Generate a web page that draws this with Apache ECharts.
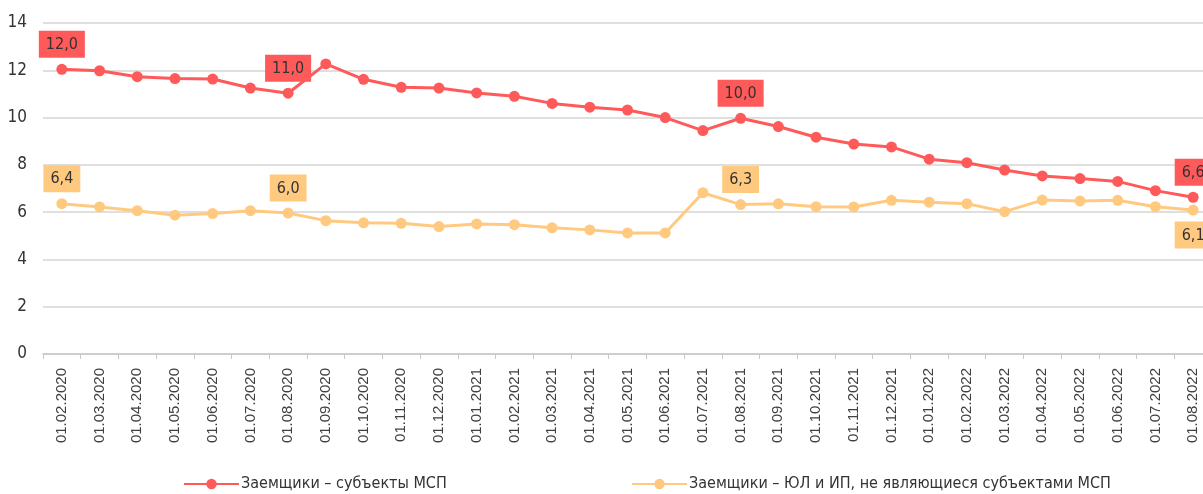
<!DOCTYPE html>
<html>
<head>
<meta charset="utf-8">
<script src="https://cdn.jsdelivr.net/npm/echarts@6/dist/echarts.min.js"></script>
<style>
  html, body { margin: 0; padding: 0; background: #fff; }
  #chart { width: 1203px; height: 494px; }
</style>
</head>
<body>
<div id="chart"></div>
<script>
var dates = [
  '01.02.2020', '01.03.2020', '01.04.2020', '01.05.2020', '01.06.2020', '01.07.2020',
  '01.08.2020', '01.09.2020', '01.10.2020', '01.11.2020', '01.12.2020', '01.01.2021',
  '01.02.2021', '01.03.2021', '01.04.2021', '01.05.2021', '01.06.2021', '01.07.2021',
  '01.08.2021', '01.09.2021', '01.10.2021', '01.11.2021', '01.12.2021', '01.01.2022',
  '01.02.2022', '01.03.2022', '01.04.2022', '01.05.2022', '01.06.2022', '01.07.2022',
  '01.08.2022'
];

var smeName = 'Заемщики – субъекты МСП';
var otherName = 'Заемщики – ЮЛ и ИП, не являющиеся субъектами МСП';

var smeValues = [
  12.04, 11.98, 11.73, 11.65, 11.63, 11.25, 11.03, 12.27, 11.62, 11.28, 11.25, 11.04,
  10.90, 10.60, 10.44, 10.32, 10.00, 9.45, 9.97, 9.62, 9.17, 8.88, 8.76, 8.24,
  8.09, 7.78, 7.53, 7.42, 7.30, 6.91, 6.63
];
var otherValues = [
  6.36, 6.22, 6.06, 5.87, 5.94, 6.06, 5.96, 5.64, 5.55, 5.53, 5.39, 5.50,
  5.47, 5.34, 5.25, 5.12, 5.12, 6.82, 6.32, 6.35, 6.23, 6.22, 6.50, 6.42,
  6.36, 6.02, 6.51, 6.47, 6.50, 6.23, 6.09
];

// points that carry a callout
var smeLabelIdx = [0, 6, 18, 30];
var otherLabelIdx = [0, 6, 18, 30];
var otherLabelBelow = [30];

var yTicks = { min: 0, max: 14, step: 2 };

var red = '#ff5a5a';
var yellow = '#ffca80';
var labelFont = "'Liberation Sans Narrow', 'DejaVu Sans Condensed', sans-serif";

function fmt(v) {
  return v.toFixed(1).replace('.', ',');
}

function buildData(values, labelIdx, color, below) {
  var out = [];
  for (var i = 0; i < values.length; i++) {
    if (labelIdx.indexOf(i) >= 0) {
      var under = below && below.indexOf(i) >= 0;
      out.push({
        value: values[i],
        label: {
          show: true,
          position: under ? 'bottom' : 'top',
          distance: 6,
          formatter: function (p) { return fmt(p.value); },
          backgroundColor: color,
          color: '#333',
          fontFamily: labelFont,
          fontSize: 16,
          padding: [6, 7, 5, 7]
        }
      });
    } else {
      out.push(values[i]);
    }
  }
  return out;
}

var chart = echarts.init(document.getElementById('chart'));

chart.setOption({
  animation: false,
  grid: {
    left: 43,
    right: -9,
    top: 23,
    bottom: 140,
    outerBoundsMode: 'none'
  },
  legend: [{
    left: 178,
    top: 471,
    itemWidth: 55,
    itemHeight: 13,
    textStyle: { fontFamily: labelFont, fontSize: 16, color: '#333', padding: [0, 0, 0, -3] },
    data: [smeName]
  }, {
    left: 626,
    top: 471,
    itemWidth: 55,
    itemHeight: 13,
    textStyle: { fontFamily: labelFont, fontSize: 16, color: '#333', padding: [0, 0, 0, -3] },
    data: [otherName]
  }],
  xAxis: {
    type: 'category',
    data: dates,
    boundaryGap: true,
    axisLine: { lineStyle: { color: '#c8c8c8', width: 1.5 } },
    axisTick: { show: true, interval: 0, length: 5, lineStyle: { color: '#c8c8c8' } },
    axisLabel: {
      interval: 0,
      rotate: 90,
      margin: 14,
      fontFamily: "'Liberation Sans', Arial, sans-serif",
      fontSize: 15,
      color: '#404040'
    }
  },
  yAxis: {
    type: 'value',
    min: yTicks.min,
    max: yTicks.max,
    interval: yTicks.step,
    axisLine: { show: false },
    axisTick: { show: false },
    splitLine: { lineStyle: { color: '#d4d4d4', width: 1.5 } },
    axisLabel: {
      margin: 16,
      fontFamily: labelFont,
      fontSize: 17,
      color: '#333'
    }
  },
  series: [{
    name: smeName,
    type: 'line',
    data: buildData(smeValues, smeLabelIdx, red),
    symbol: 'circle',
    symbolSize: 11,
    itemStyle: { color: red },
    lineStyle: { color: red, width: 3 },
    z: 3
  }, {
    name: otherName,
    type: 'line',
    data: buildData(otherValues, otherLabelIdx, yellow, otherLabelBelow),
    symbol: 'circle',
    symbolSize: 11,
    itemStyle: { color: yellow },
    lineStyle: { color: yellow, width: 3 },
    z: 2
  }]
});
</script>
</body>
</html>
